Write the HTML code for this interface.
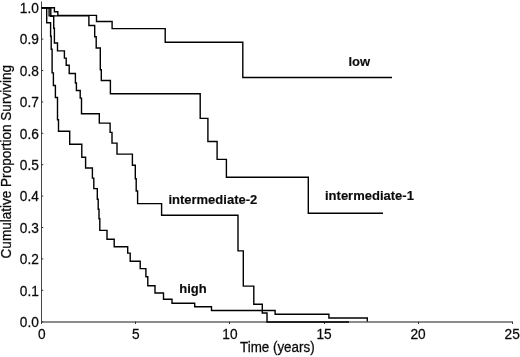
<!DOCTYPE html>
<html><head><meta charset="utf-8"><title>Survival</title>
<style>
html,body{margin:0;padding:0;background:#fff;}
svg{display:block}
text{font-family:"Liberation Sans",Arial,sans-serif;font-size:13px;fill:#0a0a0a;stroke:#0a0a0a;stroke-width:0.25px}
.b{font-weight:bold;stroke-width:0.15px}
.t{font-size:13.7px}
.c{fill:none;stroke:#000;stroke-width:1.4;stroke-linejoin:miter}
</style></head><body>
<svg width="520" height="357" viewBox="0 0 520 357">
<rect width="520" height="357" fill="#fff"/>
<line x1="41.5" x2="41.5" y1="1.5" y2="323" stroke="#444" stroke-width="1"/>
<line x1="41" x2="512.6" y1="322" y2="322" stroke="#666" stroke-width="1.7"/>
<text class="t" transform="translate(38.8,327.0) scale(1,1.08)" text-anchor="end">0.0</text>
<line x1="41.5" x2="43.3" y1="321.7" y2="321.7" stroke="#333" stroke-width="1"/>
<text class="t" transform="translate(38.8,295.6) scale(1,1.08)" text-anchor="end">0.1</text>
<line x1="41.5" x2="43.3" y1="290.3" y2="290.3" stroke="#333" stroke-width="1"/>
<text class="t" transform="translate(38.8,264.2) scale(1,1.08)" text-anchor="end">0.2</text>
<line x1="41.5" x2="43.3" y1="258.9" y2="258.9" stroke="#333" stroke-width="1"/>
<text class="t" transform="translate(38.8,232.8) scale(1,1.08)" text-anchor="end">0.3</text>
<line x1="41.5" x2="43.3" y1="227.5" y2="227.5" stroke="#333" stroke-width="1"/>
<text class="t" transform="translate(38.8,201.4) scale(1,1.08)" text-anchor="end">0.4</text>
<line x1="41.5" x2="43.3" y1="196.1" y2="196.1" stroke="#333" stroke-width="1"/>
<text class="t" transform="translate(38.8,170.0) scale(1,1.08)" text-anchor="end">0.5</text>
<line x1="41.5" x2="43.3" y1="164.7" y2="164.7" stroke="#333" stroke-width="1"/>
<text class="t" transform="translate(38.8,138.6) scale(1,1.08)" text-anchor="end">0.6</text>
<line x1="41.5" x2="43.3" y1="133.3" y2="133.3" stroke="#333" stroke-width="1"/>
<text class="t" transform="translate(38.8,107.2) scale(1,1.08)" text-anchor="end">0.7</text>
<line x1="41.5" x2="43.3" y1="101.9" y2="101.9" stroke="#333" stroke-width="1"/>
<text class="t" transform="translate(38.8,75.8) scale(1,1.08)" text-anchor="end">0.8</text>
<line x1="41.5" x2="43.3" y1="70.5" y2="70.5" stroke="#333" stroke-width="1"/>
<text class="t" transform="translate(38.8,44.4) scale(1,1.08)" text-anchor="end">0.9</text>
<line x1="41.5" x2="43.3" y1="39.1" y2="39.1" stroke="#333" stroke-width="1"/>
<text class="t" transform="translate(38.8,13.0) scale(1,1.08)" text-anchor="end">1.0</text>
<line x1="41.5" x2="43.3" y1="7.7" y2="7.7" stroke="#333" stroke-width="1"/>
<text class="t" transform="translate(41.7,338.9) scale(1,1.08)" text-anchor="middle">0</text>
<line x1="41.5" x2="41.5" y1="321.6" y2="324" stroke="#3a3a3a" stroke-width="1"/>
<text class="t" transform="translate(135.8,338.9) scale(1,1.08)" text-anchor="middle">5</text>
<line x1="135.5" x2="135.5" y1="321.6" y2="324" stroke="#3a3a3a" stroke-width="1"/>
<text class="t" transform="translate(229.9,338.9) scale(1,1.08)" text-anchor="middle">10</text>
<line x1="229.5" x2="229.5" y1="321.6" y2="324" stroke="#3a3a3a" stroke-width="1"/>
<text class="t" transform="translate(324.0,338.9) scale(1,1.08)" text-anchor="middle">15</text>
<line x1="324.5" x2="324.5" y1="321.6" y2="324" stroke="#3a3a3a" stroke-width="1"/>
<text class="t" transform="translate(418.1,338.9) scale(1,1.08)" text-anchor="middle">20</text>
<line x1="418.5" x2="418.5" y1="321.6" y2="324" stroke="#3a3a3a" stroke-width="1"/>
<text class="t" transform="translate(512.2,338.9) scale(1,1.08)" text-anchor="middle">25</text>
<line x1="512.5" x2="512.5" y1="321.6" y2="324" stroke="#3a3a3a" stroke-width="1"/>
<path class="c" d="M41.7 7.7 H54.4 V11.7 H57.8 V15.4 H96.5 V21.5 H112.1 V28.6 H165.2 V42.3 H242.8 V77.45 H392"/>
<path class="c" d="M41.7 7.7 H49.1 V15.9 H88.9 V25.5 H94.7 V36.7 H96.2 V48.0 H100.3 V69.7 H101.3 V80.5 H110.4 V93.7 H200.2 V118.4 H207.9 V141.5 H217.1 V159.4 H226.4 V177.2 H308.3 V213.3 H383"/>
<path class="c" d="M41.7 7.7 H50.8 V16.3 H53.7 V28.3 H54.4 V43.0 H57.5 V50.9 H64.4 V58.1 H66.2 V65.3 H69.2 V73.5 H75.4 V83.0 H76.4 V90.5 H80.2 V98.1 H81.5 V113.7 H99.3 V123.1 H110.1 V132.4 H112 V143.1 H117 V154.1 H132.4 V165.2 H135.3 V178.7 H136.2 V191.0 H137.6 V203.6 H161.6 V215.3 H238.0 V250.9 H243.3 V286.1 H253.8 V304.3 H262.3 V313.0 H267 V322 H349"/>
<path class="c" d="M41.7 7.7 H46.7 V22.7 H50.6 V36.3 H51.2 V49.3 H52.1 V72.9 H53.4 V85.5 H55.4 V97.5 H57.5 V119.8 H58.5 V131.2 H69.7 V144.3 H81.8 V157.3 H85.6 V168.0 H92.4 V178.1 H93.8 V188.6 H97.3 V199.3 H98.2 V209.3 H99 V218.8 H99.8 V230.4 H107 V239.2 H114.2 V246.8 H127.7 V253.1 H130.2 V261.3 H140.2 V268.6 H145.9 V276.7 H147.8 V285.8 H155 V293.0 H163.5 V299.2 H172 V303.3 H194.7 V306.7 H211.5 V310.5 H275.1 V314.2 H328.9 V318.0 H367.3 V321.5"/>
<text class="b" x="348.4" y="65.8">low</text>
<text class="b" x="325" y="199.5">intermediate-1</text>
<text class="b" x="168.4" y="204.1">intermediate-2</text>
<text class="b" x="179.3" y="292.8">high</text>
<text transform="translate(277.3,352.35) scale(1,1.08)" text-anchor="middle" style="font-size:13.4px">Time (years)</text>
<text transform="translate(11.0,161.7) rotate(-90) scale(1,1.08)" text-anchor="middle" style="font-size:13.55px">Cumulative Proportion Surviving</text>
</svg>
</body></html>
